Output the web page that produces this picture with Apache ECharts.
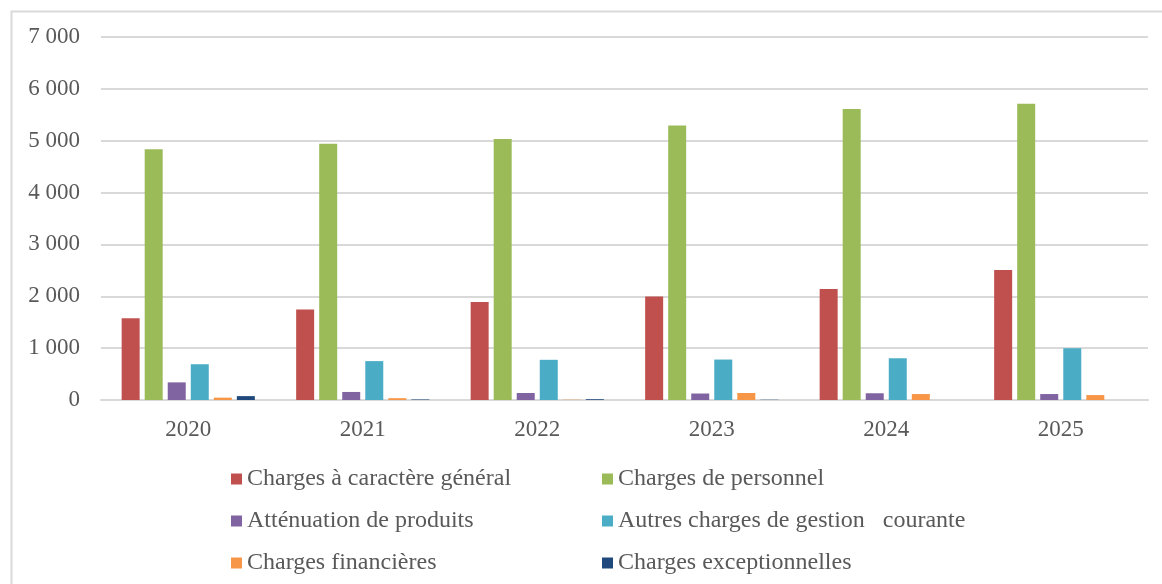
<!DOCTYPE html>
<html>
<head>
<meta charset="utf-8">
<script src="https://cdn.jsdelivr.net/npm/echarts@6/dist/echarts.min.js"></script>
<style>
  html, body { margin: 0; padding: 0; background: #fff; }
  #chart { width: 1162px; height: 584px; }
</style>
</head>
<body>
<div id="chart"></div>
<script>
// années
const years = ['2020', '2021', '2022', '2023', '2024', '2025']

// valeurs
const chargesGenerales = [1575, 1745, 1890, 1995, 2140, 2505]
const chargesPersonnel = [4835, 4940, 5035, 5295, 5610, 5715]
const attenuationProduits = [340, 155, 135, 125, 130, 115]
const autresCharges = [690, 750, 775, 780, 805, 1000]
const chargesFinancieres = [45, 35, 5, 135, 115, 95]
const chargesExceptionnelles = [75, 10, 15, 5, 0, 0]

const seriesNames = [
    'Charges à caractère général',
    'Charges de personnel',
    'Atténuation de produits',
    'Autres charges de gestion   courante',
    'Charges financières',
    'Charges exceptionnelles'
]
const seriesData = [chargesGenerales, chargesPersonnel, attenuationProduits, autresCharges, chargesFinancieres, chargesExceptionnelles]
const colors = ['#c0504d', '#9bbb59', '#8064a2', '#4bacc6', '#f79646', '#1f497d']

const fontFamily = '"Liberation Serif", "DejaVu Serif", serif'

const myChart = echarts.init(document.getElementById('chart'))

const legendText = { fontFamily: fontFamily, fontSize: 24, color: '#595959', lineHeight: 22 }

myChart.setOption({
    animation: false,
    color: colors,
    graphic: [{
        type: 'rect',
        left: 9, top: 9,
        shape: { width: 1170, height: 600 },
        style: { fill: 'none', stroke: '#d9d9d9', lineWidth: 2 }
    }],
    grid: { left: 101, right: 14, top: 37, bottom: 184 },
    legend: [
        {
            orient: 'vertical', left: 226, top: 462,
            itemWidth: 11, itemHeight: 11, itemGap: 18,
            icon: 'rect',
            data: [seriesNames[0], seriesNames[2], seriesNames[4]],
            textStyle: legendText
        },
        {
            orient: 'vertical', left: 597, top: 462,
            itemWidth: 11, itemHeight: 11, itemGap: 18,
            icon: 'rect',
            data: [seriesNames[1], seriesNames[3], seriesNames[5]],
            textStyle: legendText
        }
    ],
    xAxis: {
        type: 'category',
        data: years,
        axisLine: { lineStyle: { color: '#d9d9d9', width: 2 } },
        axisTick: { show: false },
        axisLabel: { fontFamily: fontFamily, fontSize: 23, color: '#595959', margin: 18 }
    },
    yAxis: {
        type: 'value',
        min: 0, max: 7000, interval: 1000,
        axisLine: { show: false },
        axisTick: { show: false },
        splitLine: { lineStyle: { color: '#d9d9d9', width: 2 } },
        axisLabel: {
            fontFamily: fontFamily, fontSize: 23, color: '#595959', margin: 21,
            formatter: v => v >= 1000 ? String(Math.floor(v / 1000)) + ' ' + String(v % 1000).padStart(3, '0') : String(v)
        }
    },
    series: seriesNames.map((name, i) => ({
        name: name,
        type: 'bar',
        data: seriesData[i],
        barWidth: 18,
        barGap: '28%'
    }))
})
</script>
</body>
</html>
